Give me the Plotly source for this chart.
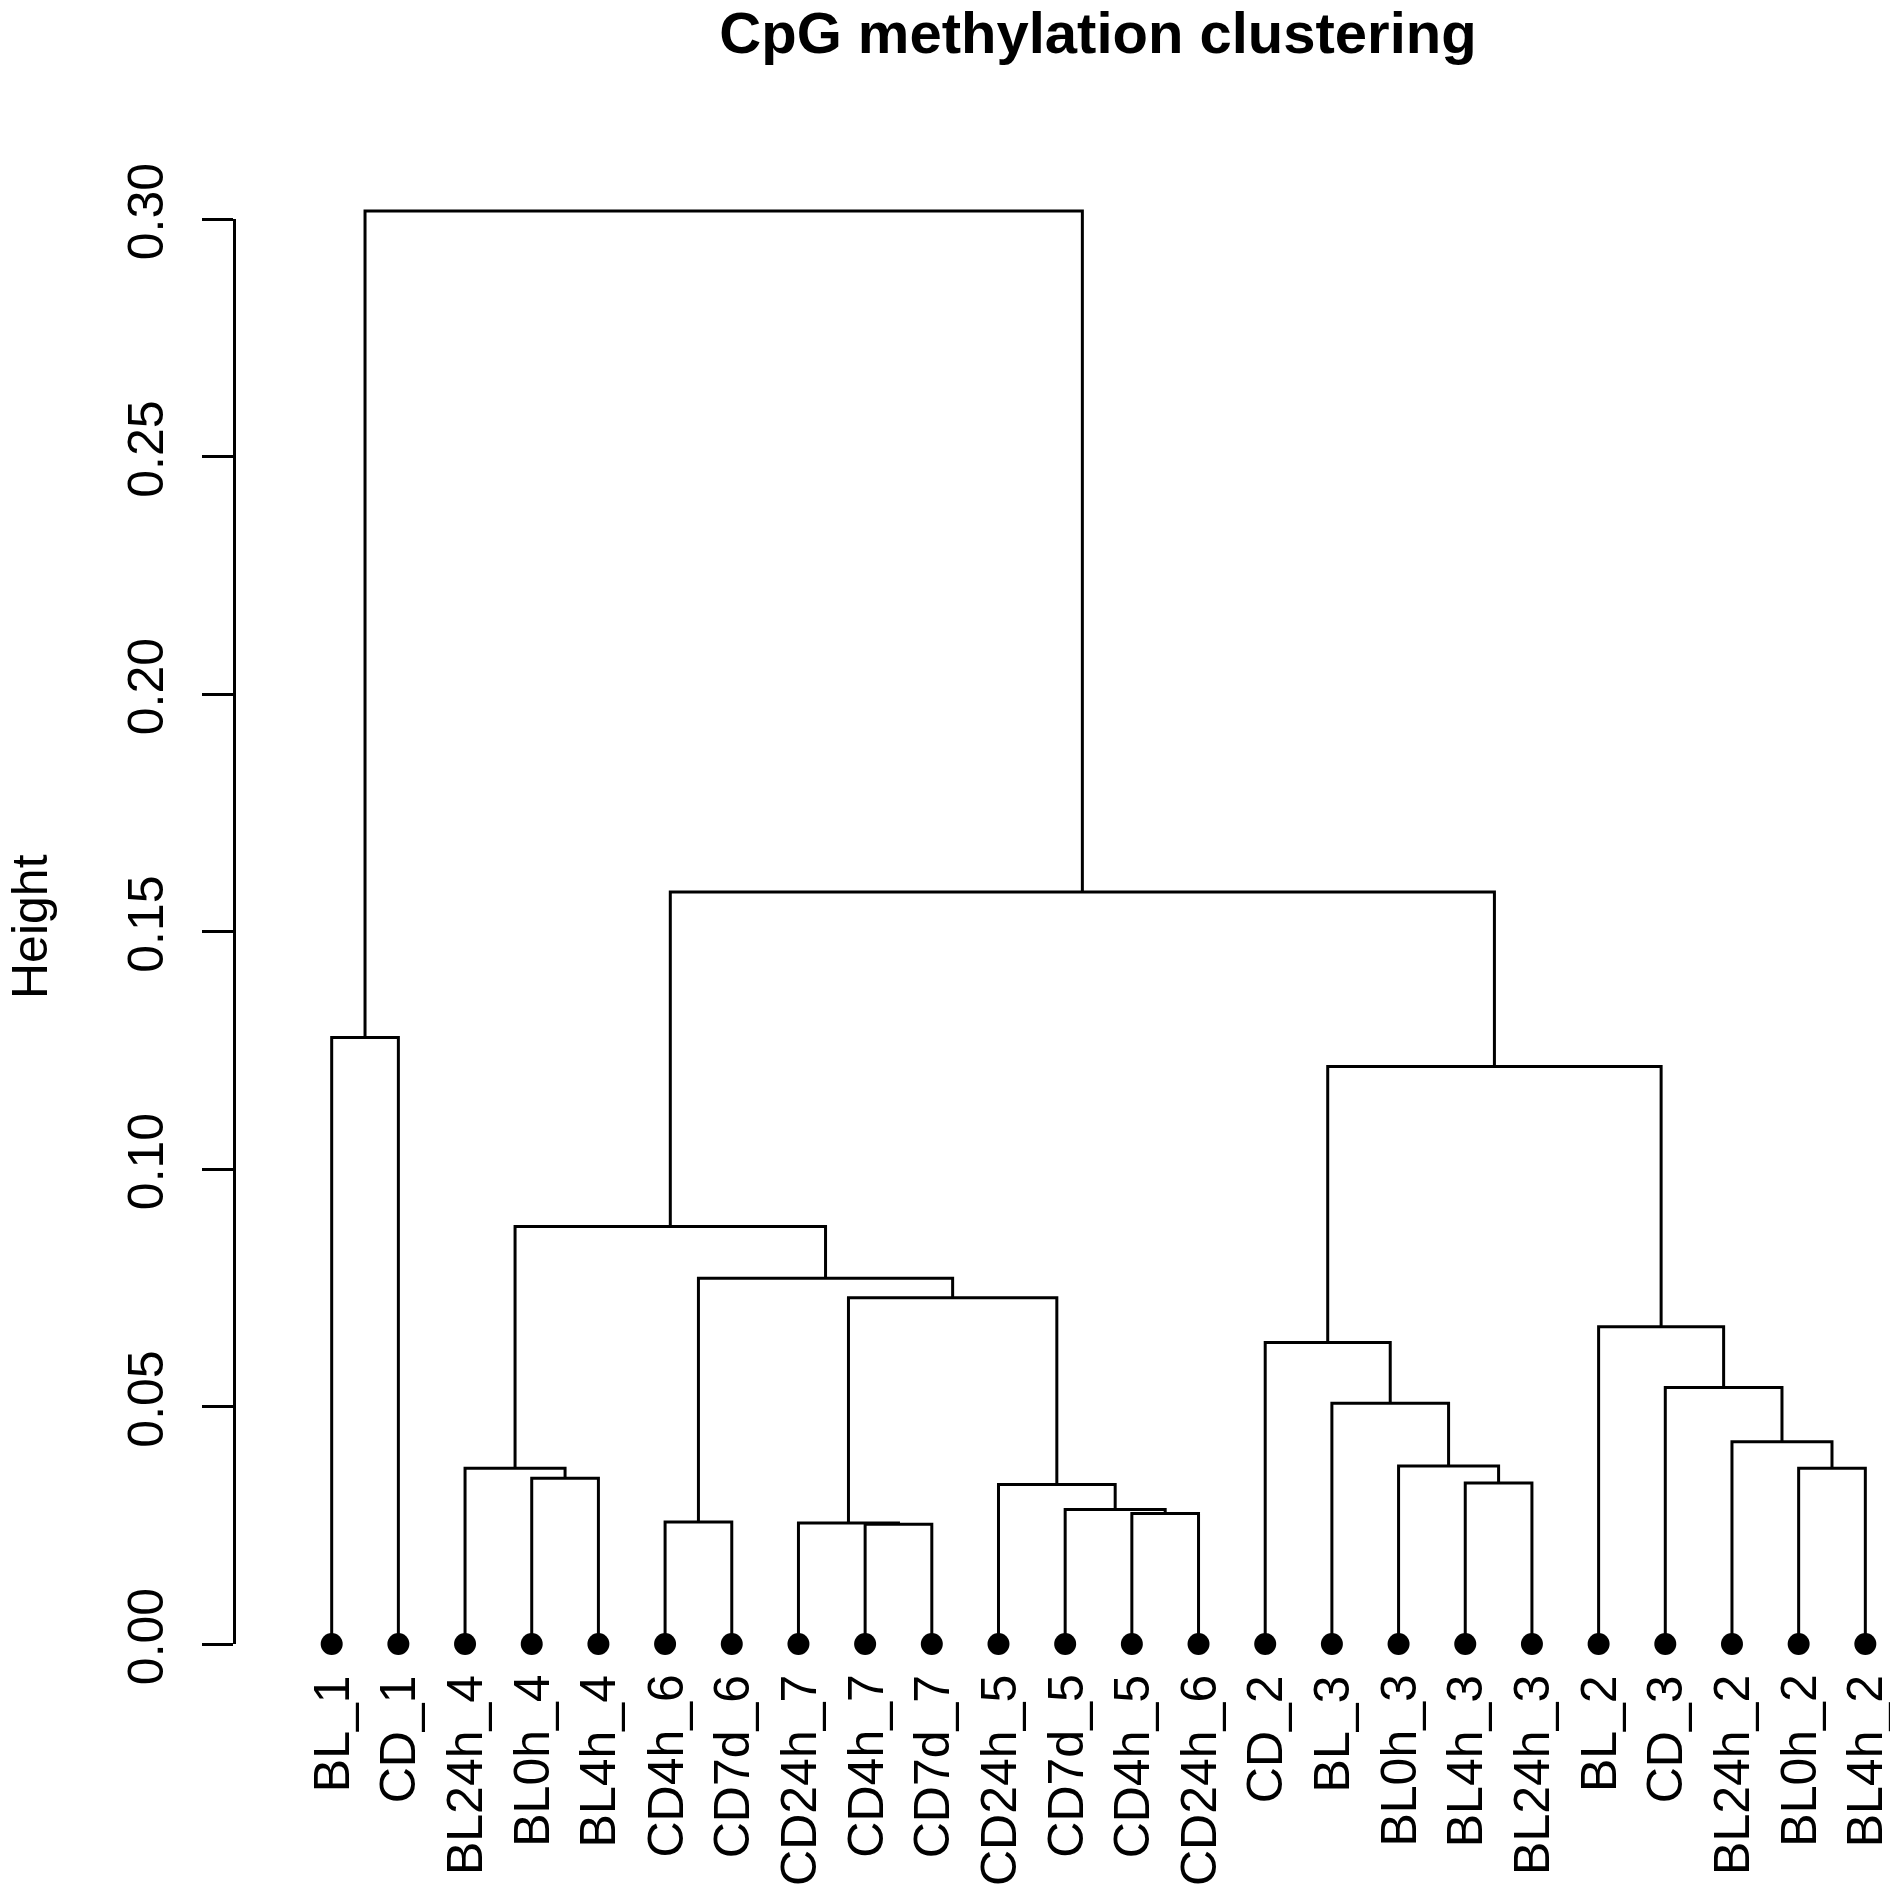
import plotly.graph_objects as go

title_text = "CpG methylation clustering"
y_title = "Height"

# leaves in the order the dendrogram draws them (left to right)
leaf_labels = [
    "BL_1", "CD_1", "BL24h_4", "BL0h_4", "BL4h_4", "CD4h_6", "CD7d_6",
    "CD24h_7", "CD4h_7", "CD7d_7", "CD24h_5", "CD7d_5", "CD4h_5", "CD24h_6",
    "CD_2", "BL_3", "BL0h_3", "BL4h_3", "BL24h_3", "BL_2", "CD_3",
    "BL24h_2", "BL0h_2", "BL4h_2",
]

# hclust-style merge table: negative = leaf (1-based), positive = earlier merge row (1-based)
merge_left = [-4, -3, -6, -9, -8, -13, -12, -11, 5, 3, 2,
              -18, -17, -16, -15, -23, -22, -21, -20, 15, 11, -1, 22]
merge_right = [-5, 1, -7, -10, 4, -14, 6, 7, 8, 9, 10,
               -19, 12, 13, 14, -24, 16, 17, 18, 19, 20, -2, 21]
merge_height = [0.0349, 0.0370, 0.0257, 0.0252, 0.0255, 0.0275, 0.0283, 0.0336,
                0.0729, 0.0770, 0.0879, 0.0339, 0.0375, 0.0507, 0.0635, 0.0370,
                0.0426, 0.0540, 0.0668, 0.1216, 0.1583, 0.1277, 0.3017]

tick_vals = [0.00, 0.05, 0.10, 0.15, 0.20, 0.25, 0.30]

FONT = "Liberation Sans, Arial, Helvetica, sans-serif"
# page body has an 8px margin, so the figure is 8px smaller than the window
W, H = 1890, 1882
ML, MR, MT, MB = 226, 0, 145, 189
Y_RANGE = [-0.0120, 0.3139]
X_RANGE = [-0.465, 24.49]
LW = 3

leaf_x = [i + 1 for i in range(len(leaf_labels))]


def node_pos(ref, pos):
    # x and height of a leaf or an earlier merge
    if ref < 0:
        return leaf_x[-ref - 1], 0.0
    return pos[ref - 1]


def dendro_segments():
    xs, ys, pos = [], [], []
    for l, r, h in zip(merge_left, merge_right, merge_height):
        xl, hl = node_pos(l, pos)
        xr, hr = node_pos(r, pos)
        xs += [xl, xl, xr, xr, None]
        ys += [hl, h, h, hr, None]
        pos.append(((xl + xr) / 2, h))
    return xs, ys


xs, ys = dendro_segments()

fig = go.Figure()
# carrier for the visible height axis (drawn first, underneath)
fig.add_trace(go.Scatter(x=[leaf_x[0]], y=[0], yaxis="y2", mode="markers",
                         marker=dict(opacity=0), hoverinfo="skip", showlegend=False))
fig.add_trace(go.Scatter(x=xs, y=ys, mode="lines", line=dict(color="black", width=LW),
                         hoverinfo="skip", showlegend=False))
fig.add_trace(go.Scatter(x=leaf_x, y=[0] * len(leaf_x), mode="markers",
                         marker=dict(color="black", size=22, line=dict(width=0)),
                         cliponaxis=False, hoverinfo="skip", showlegend=False))

for x, lab in zip(leaf_x, leaf_labels):
    fig.add_annotation(x=x, y=0, text=lab, textangle=-90, showarrow=False,
                       xanchor="center", yanchor="top", yshift=-29,
                       font=dict(family=FONT, size=50, color="black"))

span = Y_RANGE[1] - Y_RANGE[0]
d0 = (tick_vals[0] - Y_RANGE[0]) / span
d1 = (tick_vals[-1] - Y_RANGE[0]) / span

fig.add_annotation(text=y_title, textangle=-90, showarrow=False,
                   xref="paper", yref="paper", x=(22 - ML) / (W - ML - MR), y=0.5,
                   xanchor="center", yanchor="middle",
                   font=dict(family=FONT, size=50, color="black"))

fig.update_layout(
    width=W, height=H,
    margin=dict(l=ML, r=MR, t=MT, b=MB, pad=0),
    paper_bgcolor="white", plot_bgcolor="rgba(0,0,0,0)",
    title=dict(text="<b>" + title_text + "</b>", xref="container", yref="container",
               x=1090 / W, xanchor="center", y=1 - 4 / H, yanchor="top",
               font=dict(family=FONT, size=58, color="black")),
    xaxis=dict(range=X_RANGE, visible=False, fixedrange=True),
    yaxis=dict(range=Y_RANGE, visible=False, fixedrange=True),
    yaxis2=dict(domain=[d0, d1], range=[tick_vals[0], tick_vals[-1]], anchor="free",
                position=0, side="left", showline=True, linecolor="black", linewidth=LW,
                ticks="outside", ticklen=31, tickwidth=LW, tickcolor="black",
                tickvals=tick_vals, ticktext=["%.2f" % v for v in tick_vals],
                tickangle=-90, ticklabelstandoff=19,
                tickfont=dict(family=FONT, size=50, color="black"),
                showgrid=False, zeroline=False, fixedrange=True),
)

fig.write_html("out.html")
